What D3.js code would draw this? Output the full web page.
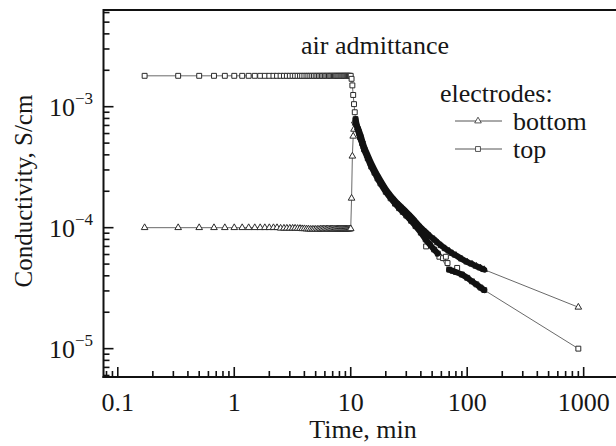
<!DOCTYPE html>
<html>
<head>
<meta charset="utf-8">
<script src="https://cdn.jsdelivr.net/npm/d3@7"></script>
<style>
  html, body { margin: 0; padding: 0; background: #fff; }
  svg { display: block; }
</style>
</head>
<body>
<svg id="chart" width="616" height="446"></svg>
<script>
// ---------------- data ----------------
// sampling times of the flat part before air admittance (min)
const flatTime = [0.17,0.33,0.5,0.67,0.83,1,1.17,1.33,1.5,1.67,1.83,2,2.17,2.33,2.5,2.67,2.83,3,
  3.17,3.33,3.5,3.67,3.83,4,4.17,4.33,4.5,4.67,4.83,5,5.17,5.33,5.5,5.67,5.83,6,6.17,6.33,6.5,6.67,
  6.83,7,7.17,7.33,7.5,7.67,7.83,8,8.17,8.33,8.5,8.67,8.83,9,9.17,9.33,9.5,9.67,9.83,10];

// "top" electrodes (squares)
const topFlatValue = [1.8e-3,1.8e-3,1.8e-3,1.8e-3,1.8e-3,1.8e-3,1.8e-3,1.8e-3,1.8e-3,1.8e-3,
  1.8e-3,1.8e-3,1.8e-3,1.8e-3,1.8e-3,1.8e-3,1.8e-3,1.8e-3,1.8e-3,1.8e-3,
  1.8e-3,1.8e-3,1.8e-3,1.8e-3,1.8e-3,1.8e-3,1.8e-3,1.8e-3,1.8e-3,1.8e-3,
  1.8e-3,1.8e-3,1.8e-3,1.8e-3,1.8e-3,1.8e-3,1.8e-3,1.8e-3,1.8e-3,1.8e-3,
  1.8e-3,1.8e-3,1.8e-3,1.8e-3,1.8e-3,1.8e-3,1.8e-3,1.8e-3,1.8e-3,1.8e-3,
  1.8e-3,1.8e-3,1.8e-3,1.8e-3,1.8e-3,1.8e-3,1.8e-3,1.8e-3,1.8e-3,1.8e-3];
const topDecayTime  = [10.17,10.33,10.5,10.67,10.83,11,11.5,12,12.5,13,14,15,16,17,18,20,22,24,26,28,30,33,36,40,44,48,52,56,
  70,75,80,90,100,110,120,130,140,900];
const topDecayValue = [1.7e-3,1.5e-3,1.25e-3,1.05e-3,9.0e-4,7.9e-4,6.5e-4,5.6e-4,5.0e-4,4.45e-4,3.75e-4,3.2e-4,2.85e-4,2.55e-4,
  2.32e-4,1.98e-4,1.75e-4,1.58e-4,1.45e-4,1.35e-4,1.26e-4,1.14e-4,1.03e-4,9.1e-5,8.0e-5,7.2e-5,6.6e-5,6.1e-5,
  4.5e-5,4.4e-5,4.3e-5,4.1e-5,3.85e-5,3.6e-5,3.4e-5,3.2e-5,3.05e-5,1.0e-5];
const topScatterTime  = [44.4,57.7,62,65.6,67.8,82];
const topScatterValue = [7.0e-5,5.75e-5,5.6e-5,5.75e-5,5.1e-5,4.65e-5];
const topBandRanges = [[10.9,56],[70,140]];

// "bottom" electrodes (triangles)
const bottomFlatValue = [1.0e-4,1.0e-4,1.0e-4,1.0e-4,1.0e-4,1.0e-4,1.0e-4,1.0e-4,1.0e-4,1.0e-4,
  1.0e-4,1.0e-4,1.0e-4,1.0e-4,0.99e-4,0.99e-4,0.99e-4,0.99e-4,0.99e-4,0.99e-4,
  0.985e-4,0.985e-4,0.98e-4,0.98e-4,0.975e-4,0.975e-4,0.97e-4,0.97e-4,0.97e-4,0.97e-4,
  0.97e-4,0.97e-4,0.975e-4,0.975e-4,0.975e-4,0.975e-4,0.975e-4,0.975e-4,0.975e-4,0.975e-4,
  0.975e-4,0.975e-4,0.975e-4,0.975e-4,0.975e-4,0.975e-4,0.975e-4,0.975e-4,0.975e-4,0.975e-4,
  0.975e-4,0.975e-4,0.975e-4,0.975e-4,0.975e-4,0.975e-4,0.975e-4,0.975e-4,0.975e-4,0.98e-4];
const bottomDecayTime  = [10.17,10.33,10.5,10.67,10.83,11,11.5,12,12.5,13,14,15,16,17,18,20,22,24,26,28,30,33,36,40,44,48,52,56,
  60,65,70,75,80,90,100,110,120,130,140,900];
const bottomDecayValue = [1.75e-4,3.9e-4,5.7e-4,6.5e-4,7.6e-4,7.3e-4,6.7e-4,6.0e-4,5.3e-4,4.7e-4,3.95e-4,3.4e-4,3.0e-4,2.7e-4,
  2.45e-4,2.08e-4,1.84e-4,1.67e-4,1.54e-4,1.44e-4,1.35e-4,1.23e-4,1.12e-4,1.0e-4,9.2e-5,8.5e-5,8.0e-5,7.5e-5,
  7.1e-5,6.7e-5,6.4e-5,6.1e-5,5.9e-5,5.5e-5,5.2e-5,5.0e-5,4.8e-5,4.65e-5,4.5e-5,2.2e-5];
const bottomBandRanges = [[10.9,140]];

const xTickValues = [0.1, 1, 10, 100, 1000];
const xTickLabels = ["0.1", "1", "10", "100", "1000"];
const yTickValues = [1e-5, 1e-4, 1e-3];
const yTickExponents = ["\u22125", "\u22124", "\u22123"];

const seriesNames = ["bottom", "top"];

// ---------------- drawing ----------------
const FONT = "'Liberation Serif', Tinos, 'Times New Roman', 'DejaVu Serif', serif";
const svg = d3.select("#chart").attr("font-family", FONT);
const pL = 103.5, pR = 616, pT = 10, pB = 377;

const x = d3.scaleLog().domain([0.0754, 1895]).range([pL, pR]);
const y = d3.scaleLog().domain([5.83e-6, 6.3e-3]).range([pB, pT]);

const zip = (ts, vs) => ts.map((t, i) => ({ t, v: vs[i] }));
const topData = zip(flatTime, topFlatValue).concat(zip(topDecayTime, topDecayValue));
const bottomData = zip(flatTime, bottomFlatValue).concat(zip(bottomDecayTime, bottomDecayValue));
const topScatter = zip(topScatterTime, topScatterValue);

const line = d3.line().x(d => x(d.t)).y(d => y(d.v));
const smooth = d3.line().x(d => x(d.t)).y(d => y(d.v)).curve(d3.curveMonotoneX);

// thin connecting lines
[bottomData, topData].forEach(data => {
  svg.append("path").datum(data).attr("d", line)
    .attr("fill", "none").attr("stroke", "#6a6a6a").attr("stroke-width", 1);
});

const triangle = d3.symbol().type(d3.symbolTriangle).size(19);
const square = d3.symbol().type(d3.symbolSquare).size(24);

function markers(data, sym) {
  svg.append("g").selectAll("path").data(data).join("path")
    .attr("transform", d => `translate(${x(d.t)},${y(d.v)})`)
    .attr("d", sym)
    .attr("fill", "#fff").attr("stroke", "#2a2a2a").attr("stroke-width", 1);
}
markers(bottomData, triangle);
markers(topData, square);
markers(topScatter, square);

// dense (overlapping markers) band drawn as a heavy stroke
function band(data, ranges) {
  ranges.forEach(([a, b]) => {
    const seg = data.filter(d => d.t >= a && d.t <= b);
    svg.append("path").datum(seg).attr("d", smooth)
      .attr("fill", "none").attr("stroke", "#111").attr("stroke-width", 6)
      .attr("stroke-linejoin", "round").attr("stroke-linecap", "round");
  });
}
band(bottomData, bottomBandRanges);
band(topData, topBandRanges);

// ---------------- axes ----------------
const axisG = svg.append("g").attr("stroke", "#111").attr("fill", "none");
axisG.append("path").attr("d", `M${pL},${pT}H${pR}`).attr("stroke-width", 2);
axisG.append("path").attr("d", `M${pL},${pT - 1}V${pB + 1}`).attr("stroke-width", 2);
axisG.append("path").attr("d", `M${pL - 1},${pB}H${pR}`).attr("stroke-width", 2);

const isMajor = v => Math.abs(Math.log10(v) - Math.round(Math.log10(v))) < 1e-6;

x.ticks().filter(v => x(v) > pL + 1 && x(v) < pR).forEach(v => {
  const len = isMajor(v) ? 10 : 6;
  axisG.append("line").attr("x1", x(v)).attr("x2", x(v))
    .attr("y1", pB).attr("y2", pB - len).attr("stroke-width", 1.6);
});
y.ticks().filter(v => y(v) < pB - 1 && y(v) > pT).forEach(v => {
  const len = isMajor(v) ? 10 : 6;
  axisG.append("line").attr("x1", pL).attr("x2", pL + len)
    .attr("y1", y(v)).attr("y2", y(v)).attr("stroke-width", 1.6);
});

const textFill = "#161616";
const FS = 26;
// x tick labels
svg.append("g").selectAll("text").data(xTickValues).join("text")
  .attr("x", d => x(d)).attr("y", 411)
  .attr("text-anchor", "middle").attr("font-size", FS).attr("fill", textFill)
  .text((d, i) => xTickLabels[i]);

// y tick labels: 10 with superscript exponent
yTickValues.forEach((v, i) => {
  const t = svg.append("text").attr("x", 93).attr("y", y(v) + 9)
    .attr("text-anchor", "end").attr("font-size", FS).attr("fill", textFill);
  t.append("tspan").text("10");
  t.append("tspan").attr("font-size", 17).attr("dy", -12).text(yTickExponents[i]);
});

// axis titles
svg.append("text").attr("x", 363).attr("y", 438).attr("text-anchor", "middle")
  .attr("font-size", FS).attr("fill", textFill).text("Time, min");
svg.append("text").attr("transform", "translate(32,191) rotate(-90)")
  .attr("text-anchor", "middle").attr("font-size", 25).attr("fill", textFill).text("Conductivity, S/cm");

// annotation
svg.append("text").attr("x", 375).attr("y", 54).attr("text-anchor", "middle")
  .attr("font-size", FS).attr("fill", textFill).text("air admittance");

// legend
svg.append("text").attr("x", 440).attr("y", 102).attr("font-size", FS).attr("fill", textFill).text("electrodes:");
const legendY = [121, 149];
const legendSym = [triangle, square];
seriesNames.forEach((name, i) => {
  svg.append("line").attr("x1", 455).attr("x2", 502).attr("y1", legendY[i]).attr("y2", legendY[i])
    .attr("stroke", "#555").attr("stroke-width", 1);
  svg.append("path").attr("transform", `translate(478,${legendY[i]})`).attr("d", legendSym[i])
    .attr("fill", "#fff").attr("stroke", "#444").attr("stroke-width", 0.9);
  svg.append("text").attr("x", 513).attr("y", legendY[i] + 9).attr("font-size", FS).attr("fill", textFill).text(name);
});
</script>
</body>
</html>
